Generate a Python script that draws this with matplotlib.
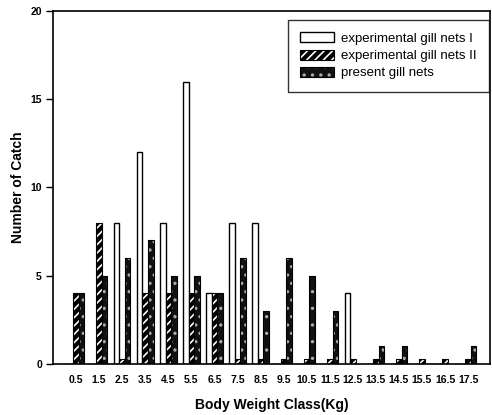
import matplotlib
matplotlib.use("Agg")
import matplotlib.pyplot as plt
import numpy as np

classes = ["0.5", "1.5", "2.5", "3.5", "4.5", "5.5", "6.5", "7.5", "8.5",
           "9.5", "10.5", "11.5", "12.5", "13.5", "14.5", "15.5", "16.5", "17.5"]
exp_1 = [0, 0, 8, 12, 8, 16, 4, 8, 8, 0, 0, 0, 4, 0, 0, 0, 0, 0]
exp_2 = [4, 8, 0.3, 4, 4, 4, 4, 0.3, 0.3, 0.3, 0.3, 0.3, 0.3, 0.3, 0.3, 0.3, 0.3, 0.3]
present = [4, 5, 6, 7, 5, 5, 4, 6, 3, 6, 5, 3, 0, 1, 1, 0, 0, 1]

plt.rcParams["font.family"] = ["Liberation Sans", "DejaVu Sans"]
plt.rcParams["hatch.linewidth"] = 1.2

fig = plt.figure(figsize=(4.92, 4.15), dpi=100)
fig.patch.set_facecolor("white")
ax = fig.add_axes([0.1077, 0.1229, 0.8883, 0.8506])

x = np.arange(len(classes))
w = 0.24

h1 = ax.bar(x - w, exp_1, w, facecolor="white", edgecolor="black", linewidth=1.0)

h2a = ax.bar(x, exp_2, w, facecolor="black", edgecolor="white", hatch="////", linewidth=0)
h2b = ax.bar(x, exp_2, w, fill=False, edgecolor="black", linewidth=0.8)

h3a = ax.bar(x + w, present, w, facecolor="#111111", edgecolor="#aaaaaa", hatch="..", linewidth=0)
h3b = ax.bar(x + w, present, w, fill=False, edgecolor="black", linewidth=0.8)

ax.set_xlim(-1.0, 17.95)
ax.set_ylim(0, 20)
ax.set_xticks(x)
ax.set_xticklabels(classes)
ax.set_yticks([0, 5, 10, 15, 20])
ax.tick_params(axis="x", length=0, pad=8, labelsize=7.5)
ax.tick_params(axis="y", length=5, width=1, pad=3, labelsize=7.5)
for lab in ax.get_xticklabels() + ax.get_yticklabels():
    lab.set_fontweight("bold")
for s in ax.spines.values():
    s.set_linewidth(1.2)
    s.set_color("black")

ax.set_xlabel("Body Weight Class(Kg)", fontsize=10, fontweight="bold", labelpad=9)
ax.set_ylabel("Number of Catch", fontsize=10, fontweight="bold", labelpad=4)

leg = ax.legend([h1[0], (h2a[0], h2b[0]), (h3a[0], h3b[0])],
                ["experimental gill nets I", "experimental gill nets II", "present gill nets"],
                loc="upper right", bbox_to_anchor=(0.998, 0.975), borderaxespad=0,
                fontsize=9.5, frameon=True, fancybox=False, edgecolor="black",
                handlelength=2.6, handleheight=0.8, borderpad=0.95, labelspacing=0.35,
                handletextpad=0.5)
leg.get_frame().set_linewidth(1.0)

fig.savefig("out.png", dpi=100)
